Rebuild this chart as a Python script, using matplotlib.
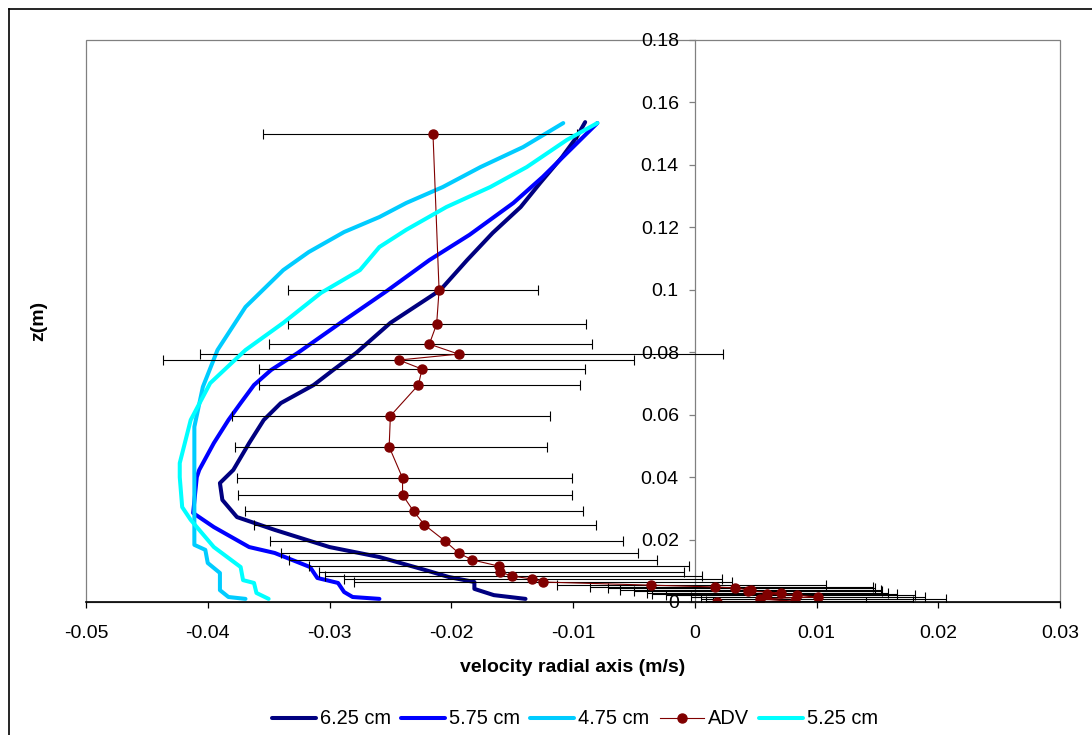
import matplotlib
matplotlib.use("Agg")
import numpy as np
import matplotlib.pyplot as plt
from matplotlib.lines import Line2D
from matplotlib.patches import Rectangle

plt.rcParams['font.family'] = ['Liberation Sans', 'DejaVu Sans']

# computed radial velocity profiles at several radii (v in m/s, z in m)
v_625 = [-0.0090, -0.0097, -0.0109, -0.0127, -0.0143, -0.0166, -0.0187, -0.0209,
         -0.0234, -0.0250, -0.0278, -0.0297, -0.0313, -0.0340, -0.0354, -0.0366,
         -0.0379, -0.0390, -0.0388, -0.0376, -0.0345, -0.0300, -0.0259, -0.0221,
         -0.0202, -0.0181, -0.0181, -0.0165, -0.0139]
z_625 = [0.1537, 0.1489, 0.1425, 0.1342, 0.1265, 0.1182, 0.1095, 0.0999,
         0.0935, 0.0894, 0.0798, 0.0743, 0.0695, 0.0637, 0.0583, 0.0509,
         0.0423, 0.0381, 0.0327, 0.0272, 0.0231, 0.0176, 0.0144, 0.0102,
         0.0080, 0.0064, 0.0042, 0.0022, 0.0010]

v_575 = [-0.0080, -0.0100, -0.0125, -0.0149, -0.0185, -0.0218, -0.0253, -0.0291,
         -0.0326, -0.0348, -0.0362, -0.0373, -0.0383, -0.0395, -0.0407, -0.0409,
         -0.0412, -0.0395, -0.0366, -0.0345, -0.0316, -0.0310, -0.0293, -0.0288,
         -0.0281, -0.0259]
z_575 = [0.1534, 0.1457, 0.1361, 0.1278, 0.1176, 0.1095, 0.0996, 0.0894,
         0.0798, 0.0743, 0.0695, 0.0637, 0.0583, 0.0509, 0.0423, 0.0400,
         0.0285, 0.0240, 0.0176, 0.0157, 0.0112, 0.0077, 0.0061, 0.0032,
         0.0016, 0.0010]

v_475 = [-0.0108, -0.0141, -0.0176, -0.0207, -0.0237, -0.0259, -0.0288, -0.0317,
         -0.0338, -0.0369, -0.0392, -0.0404, -0.0411, -0.0411, -0.0411, -0.0411,
         -0.0402, -0.0400, -0.0390, -0.0390, -0.0383, -0.0369]
z_475 = [0.1534, 0.1457, 0.1393, 0.1329, 0.1278, 0.1233, 0.1185, 0.1121,
         0.1063, 0.0945, 0.0807, 0.0689, 0.0561, 0.0423, 0.0199, 0.0183,
         0.0167, 0.0125, 0.0093, 0.0038, 0.0016, 0.0010]

v_525 = [-0.0080, -0.0105, -0.0138, -0.0168, -0.0204, -0.0237, -0.0259, -0.0275,
         -0.0307, -0.0338, -0.0369, -0.0398, -0.0414, -0.0423, -0.0423, -0.0421,
         -0.0414, -0.0395, -0.0373, -0.0371, -0.0362, -0.0360, -0.0350]
z_525 = [0.1534, 0.1480, 0.1393, 0.1329, 0.1265, 0.1192, 0.1137, 0.1063,
         0.0990, 0.0894, 0.0807, 0.0701, 0.0583, 0.0445, 0.0400, 0.0304,
         0.0263, 0.0176, 0.0112, 0.0070, 0.0061, 0.0029, 0.0010]

# ADV measurements: mean velocity, height, and error bar ends
adv_v = [-0.0215, -0.0210, -0.0212, -0.0218, -0.0194, -0.0243, -0.0224, -0.0227,
         -0.0250, -0.0251, -0.0240, -0.0240, -0.0231, -0.0222, -0.0205, -0.0194,
         -0.0183, -0.0161, -0.0160, -0.0150, -0.0134, -0.0125, -0.0036, 0.0017,
         0.0033, 0.0046, 0.0044, 0.0071, 0.0059, 0.0084, 0.0101, 0.0054,
         0.0082, 0.0018]
adv_z = [0.1499, 0.0999, 0.0890, 0.0826, 0.0794, 0.0775, 0.0746, 0.0695,
         0.0596, 0.0497, 0.0397, 0.0343, 0.0291, 0.0247, 0.0195, 0.0157,
         0.0135, 0.0115, 0.0096, 0.0083, 0.0074, 0.0064, 0.0054, 0.0048,
         0.0045, 0.0038, 0.0035, 0.0029, 0.0026, 0.0022, 0.0016, 0.0010,
         0.0003, 0.0000]
adv_lo = [-0.0355, -0.0334, -0.0334, -0.0350, -0.0406, -0.0437, -0.0358, -0.0358,
          -0.0380, -0.0378, -0.0376, -0.0375, -0.0369, -0.0362, -0.0349, -0.0340,
          -0.0333, -0.0317, -0.0309, -0.0304, -0.0288, -0.0280, -0.0113, -0.0086,
          -0.0071, -0.0061, -0.0050, -0.0039, -0.0035, -0.0024, -0.0003, 0.0005,
          0.0009, 0.0015]
adv_hi = [-0.0097, -0.0129, -0.0089, -0.0084, 0.0023, -0.0050, -0.0090, -0.0094,
          -0.0119, -0.0121, -0.0101, -0.0101, -0.0092, -0.0081, -0.0059, -0.0047,
          -0.0031, -0.0005, -0.0009, 0.0006, 0.0022, 0.0031, 0.0108, 0.0146,
          0.0148, 0.0153, 0.0154, 0.0159, 0.0166, 0.0181, 0.0189, 0.0206,
          0.0179, 0.0141]

xticks = [-0.05, -0.04, -0.03, -0.02, -0.01, 0, 0.01, 0.02, 0.03]
xtick_labels = ['-0.05', '-0.04', '-0.03', '-0.02', '-0.01', '0', '0.01', '0.02', '0.03']
yticks = [0, 0.02, 0.04, 0.06, 0.08, 0.1, 0.12, 0.14, 0.16, 0.18]
ytick_labels = ['0', '0.02', '0.04', '0.06', '0.08', '0.1', '0.12', '0.14', '0.16', '0.18']

W, H = 1092, 735
fig = plt.figure(figsize=(W / 100, H / 100), dpi=100)
ax = fig.add_axes([86 / W, 1 - 602 / H, (1060 - 86) / W, (602 - 40) / H])

curve_style = dict(lw=2.9, solid_capstyle='round', solid_joinstyle='round')
ax.plot(v_625, z_625, color='#000080', label='6.25 cm', zorder=3, **curve_style)
ax.plot(v_575, z_575, color='#0000FF', label='5.75 cm', zorder=3, **curve_style)
ax.plot(v_475, z_475, color='#00CCFF', label='4.75 cm', zorder=3, **curve_style)

adv_v = np.array(adv_v)
xerr = [adv_v - np.array(adv_lo), np.array(adv_hi) - adv_v]
ax.errorbar(adv_v, adv_z, xerr=xerr, fmt='none', ecolor='black', elinewidth=0.8,
            capsize=3.8, capthick=0.8, zorder=4)
ax.plot(adv_v, adv_z, color='#800000', lw=0.8, marker='o', markersize=6.5,
        markerfacecolor='#800000', markeredgecolor='#800000', label='ADV', zorder=5)

ax.plot(v_525, z_525, color='#00FFFF', label='5.25 cm', zorder=6, **curve_style)

ax.set_xlim(-0.05, 0.03)
ax.set_ylim(0, 0.18)

# plot area frame in grey, x axis black, y axis crossing at v = 0
for side in ['top', 'right']:
    ax.spines[side].set_visible(False)
ax.add_patch(Rectangle((0, 0), 1, 1, transform=ax.transAxes, fill=False,
                       edgecolor='#808080', lw=0.9, zorder=0.5, clip_on=False))
ax.spines['left'].set_position(('data', 0))
ax.spines['left'].set_color('#808080')
ax.spines['left'].set_linewidth(0.9)
ax.spines['bottom'].set_color('black')
ax.spines['bottom'].set_linewidth(1.2)
ax.spines['bottom'].set_zorder(7)

ax.set_xticks(xticks)
ax.set_xticklabels(xtick_labels)
ax.set_yticks(yticks)
ax.set_yticklabels(ytick_labels)
ax.tick_params(axis='x', direction='out', length=4.5, width=0.9, color='black',
               pad=12, labelsize=14)
ax.tick_params(axis='y', direction='out', length=4.5, width=0.9, color='#808080',
               pad=7, labelsize=14)

ax.set_xlabel('velocity radial axis (m/s)', fontsize=14, fontweight='bold')
ax.xaxis.set_label_coords(0.5, -0.102)
ax.set_ylabel('z(m)', fontsize=14, fontweight='bold')
ax.yaxis.set_label_coords(-0.040, 0.5)

fig.legend(loc='center', bbox_to_anchor=(575 / W, 1 - 719 / H), ncol=5, frameon=False,
           fontsize=14.4, handlelength=2.2, handletextpad=0.2, columnspacing=0.5)

# outer chart border
fig.add_artist(Line2D([9 / W, 1], [1 - 9 / H, 1 - 9 / H], transform=fig.transFigure,
                      color='black', lw=1.2))
fig.add_artist(Line2D([9 / W, 9 / W], [0, 1 - 9 / H], transform=fig.transFigure,
                      color='black', lw=1.2))

fig.savefig('out.png', dpi=100)
